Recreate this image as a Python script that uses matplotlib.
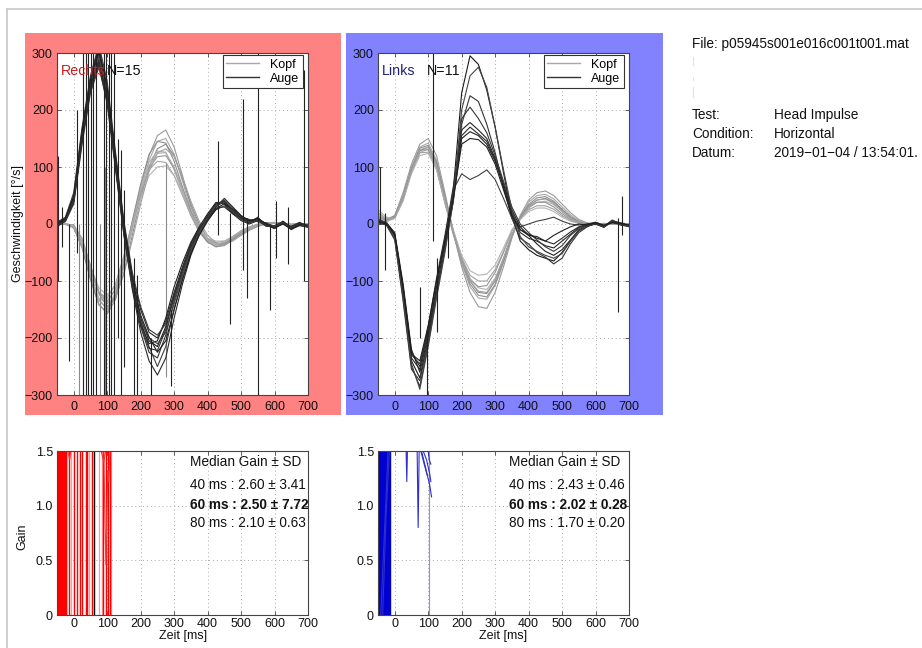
import matplotlib
matplotlib.use('Agg')
import matplotlib.pyplot as plt
from matplotlib.patches import Rectangle
from matplotlib.lines import Line2D

plt.rcParams['font.family'] = ['Liberation Sans', 'DejaVu Sans']

# ---------------- data ----------------
T = [-50, -25, 0, 25, 50, 75, 100, 125, 150, 175, 200, 225, 250, 275, 300, 325,
     350, 375, 400, 425, 450, 475, 500, 525, 550, 575, 600, 625, 650, 675, 700]

# Rechts: head (Kopf) velocity traces
HEAD_R = [
    [0, 0, -6, -40, -95, -140, -158, -132, -75, -5, 65, 120, 155, 165, 135, 85, 30, -5, -30, -40, -38, -28, -16, -8, -2, 2, 3, 0, -2, 0, 0],
    [0, 1, -4, -35, -88, -132, -150, -125, -70, 0, 62, 112, 145, 150, 122, 75, 25, -8, -30, -38, -35, -25, -14, -6, -1, 2, 2, 0, -1, 0, 0],
    [0, 0, -2, -28, -78, -122, -145, -130, -85, -20, 45, 100, 132, 140, 120, 80, 35, 0, -25, -35, -36, -28, -18, -10, -4, 0, 2, 1, -1, 0, 0],
    [0, 0, -5, -38, -90, -130, -140, -112, -58, 5, 65, 108, 128, 126, 95, 55, 15, -15, -32, -38, -33, -22, -12, -5, 0, 2, 2, 0, -2, 0, 0],
    [0, -1, -3, -30, -80, -120, -135, -115, -68, -8, 52, 98, 118, 120, 98, 62, 22, -8, -28, -35, -34, -26, -15, -7, -2, 1, 2, 1, -1, 0, 0],
    [0, 0, -4, -32, -82, -120, -130, -105, -55, 2, 55, 95, 110, 108, 85, 50, 15, -12, -28, -32, -30, -22, -12, -5, -1, 1, 1, 0, -1, 0, 0],
    [0, 0, -3, -28, -75, -112, -125, -108, -65, -10, 45, 85, 100, 102, 85, 55, 20, -8, -25, -30, -30, -24, -15, -7, -2, 0, 1, 0, -1, 0, 0],
    [0, 0, -7, -42, -98, -142, -155, -125, -65, 5, 70, 122, 145, 142, 110, 65, 20, -12, -32, -40, -36, -25, -14, -6, -1, 2, 2, 0, -2, 0, 0],
    [0, 0, -2, -25, -72, -118, -140, -128, -88, -28, 35, 92, 125, 132, 118, 82, 40, 5, -20, -33, -36, -30, -20, -11, -4, 0, 2, 1, 0, 0, 0],
    [0, 0, -5, -36, -88, -134, -148, -120, -62, 0, 58, 102, 124, 125, 100, 60, 18, -10, -28, -35, -32, -24, -13, -6, -1, 1, 2, 0, -1, 0, 0],
]

# Rechts: eye (Auge) velocity traces
EYE_R = [
    [0, 8, 45, 160, 250, 300, 230, 110, -10, -100, -165, -205, -215, -180, -125, -80, -40, -10, 15, 35, 38, 20, 12, 5, 10, 0, -8, 5, -6, 2, -4],
    [-5, 5, 40, 150, 240, 290, 220, 100, -15, -110, -180, -225, -235, -195, -135, -85, -45, -12, 12, 30, 40, 25, 8, 2, 12, -3, -5, 3, -8, 0, -2],
    [2, 10, 50, 165, 255, 310, 240, 120, 0, -90, -150, -190, -200, -170, -120, -75, -35, -8, 10, 28, 30, 18, 10, 6, 5, 2, -6, 0, -4, 3, -5],
    [0, 4, 35, 140, 230, 275, 215, 105, -5, -95, -170, -215, -250, -215, -150, -95, -50, -15, 10, 32, 42, 28, 14, 4, 8, -2, -8, 2, -10, -2, -6],
    [-3, 6, 42, 155, 245, 285, 225, 112, -8, -105, -175, -210, -205, -165, -110, -68, -32, -5, 18, 38, 35, 18, 6, 0, 6, -4, -3, 4, -6, 1, -3],
    [3, 12, 55, 170, 260, 315, 250, 125, 5, -85, -145, -185, -195, -175, -130, -85, -42, -12, 8, 25, 32, 22, 12, 8, 4, 1, -4, 2, -5, 0, -2],
    [0, 7, 38, 145, 235, 280, 210, 95, -20, -115, -190, -240, -265, -235, -165, -105, -55, -18, 8, 30, 45, 30, 15, 5, 10, -1, -6, 1, -8, -3, -5],
    [-2, 5, 44, 158, 248, 295, 232, 108, -12, -102, -168, -200, -210, -190, -140, -90, -48, -15, 12, 33, 38, 22, 9, 3, 7, -2, -5, 3, -7, 0, -4],
    [1, 9, 48, 162, 252, 305, 238, 115, -2, -96, -160, -198, -225, -205, -150, -98, -52, -20, 5, 26, 36, 26, 14, 6, 9, 0, -7, 0, -9, -1, -3],
    [-1, 6, 40, 150, 238, 282, 218, 100, -18, -110, -178, -218, -222, -185, -125, -78, -38, -8, 14, 36, 40, 24, 10, 2, 8, -3, -4, 4, -6, 2, -3],
]

# Rechts: artefact spikes (time, low, high)
SPIKE_R_T = [-47, -35, -15, 10, 28, 36, 44, 52, 58, 66, 90, 96, 104, 112, 120, 132, 142, 150, 180, 190, 232, 292, 430, 467, 505, 517, 550, 586, 605, 640, 688]
SPIKE_R_LO = [-100, -40, -240, -50, -300, -300, -300, -300, -300, -300, -300, -300, -300, -300, -300, -200, -300, -250, -300, -300, -300, -285, -20, -175, -80, -130, -300, -150, -60, -70, -100]
SPIKE_R_HI = [120, 30, 0, 200, 300, 300, 300, 300, 300, 300, 300, 300, 300, 300, 300, 150, 130, 60, -60, -90, -200, -150, 145, 20, 220, 10, 300, 0, 40, 30, 270]
SPIKE_R_GRAY_T = [15, 78, 92, 277]
SPIKE_R_GRAY_LO = [-300, -300, -300, -268]
SPIKE_R_GRAY_HI = [0, 0, 100, 107]

# Links: head traces
HEAD_L = [
    [10, 8, 15, 55, 105, 140, 150, 120, 55, -15, -75, -120, -145, -148, -120, -75, -25, 15, 42, 55, 58, 50, 35, 20, 8, 2, 0, -2, 0, 2, 0],
    [20, 10, 12, 50, 100, 135, 142, 112, 50, -15, -70, -110, -130, -132, -108, -68, -22, 12, 38, 50, 52, 44, 30, 16, 6, 1, -1, 0, 1, 0, 0],
    [5, 5, 10, 45, 95, 128, 135, 108, 48, -12, -62, -100, -120, -122, -100, -62, -20, 10, 32, 42, 45, 38, 25, 12, 4, 0, -1, 1, 0, 0, 0],
    [25, 12, 10, 42, 90, 125, 132, 105, 45, -10, -58, -95, -112, -115, -95, -60, -20, 8, 28, 38, 40, 34, 22, 10, 3, 0, 0, 0, 1, 0, 0],
    [8, 6, 14, 48, 98, 130, 130, 98, 38, -18, -65, -98, -110, -108, -85, -50, -12, 12, 30, 38, 38, 30, 18, 8, 2, -1, 0, 1, 0, 0, 0],
    [15, 8, 12, 44, 92, 125, 126, 95, 36, -18, -60, -90, -100, -100, -80, -48, -12, 10, 25, 32, 32, 26, 15, 6, 1, -1, 0, 0, 1, 0, 0],
    [3, 4, 10, 40, 88, 120, 124, 96, 40, -12, -55, -82, -90, -88, -72, -42, -10, 8, 22, 28, 28, 22, 12, 5, 1, 0, 0, 0, 0, 0, 0],
    [12, 7, 13, 47, 96, 133, 138, 108, 46, -14, -66, -105, -125, -128, -106, -66, -20, 12, 34, 46, 48, 40, 26, 13, 4, 0, -1, 0, 1, 0, 0],
    [18, 9, 11, 46, 94, 130, 135, 102, 42, -16, -64, -100, -118, -120, -98, -60, -18, 10, 30, 42, 44, 36, 22, 10, 3, 0, 0, 1, 0, 0, 0],
]

# Links: eye traces
EYE_L = [
    [5, 2, -20, -120, -240, -270, -200, -120, -40, 60, 230, 295, 280, 235, 170, 90, 15, -30, -45, -55, -60, -65, -50, -30, -12, -3, 0, -5, 5, 0, -3],
    [3, 0, -25, -130, -250, -285, -210, -125, -45, 45, 175, 225, 215, 175, 125, 65, 10, -25, -35, -50, -58, -70, -60, -35, -15, -5, 2, -4, 6, 2, -2],
    [6, 3, -18, -110, -225, -250, -190, -110, -35, 50, 165, 178, 165, 150, 115, 65, 15, -15, -25, -30, -38, -42, -30, -18, -6, -2, 3, -3, 4, -2, -4],
    [4, 1, -22, -115, -230, -245, -185, -100, -25, 60, 88, 78, 85, 95, 78, 45, 10, -5, 0, 5, 8, 12, 5, 0, -2, 0, 2, -3, 3, 0, -2],
    [8, 2, -15, -105, -220, -260, -195, -115, -40, 40, 150, 162, 155, 140, 110, 70, 25, -5, -20, -35, -48, -55, -45, -28, -10, -4, 0, -6, 5, 1, -3],
    [2, -2, -28, -135, -255, -275, -205, -118, -38, 55, 185, 205, 185, 160, 120, 75, 30, 0, -15, -28, -40, -48, -38, -20, -8, -2, 1, -4, 7, -1, -5],
    [5, 1, -20, -118, -235, -255, -180, -95, -20, 65, 155, 170, 158, 145, 112, 68, 20, -10, -20, -22, -30, -35, -25, -14, -5, 0, 3, -2, 2, 0, -2],
    [7, 3, -24, -125, -245, -290, -215, -130, -50, 40, 200, 260, 275, 240, 170, 95, 25, -22, -40, -48, -55, -60, -52, -30, -12, -4, 1, -5, 4, 0, -3],
    [4, 0, -18, -112, -228, -240, -178, -100, -30, 45, 140, 150, 148, 135, 105, 60, 15, -10, -18, -25, -30, -20, -12, -5, 0, -2, 2, -3, 3, 1, -2],
]

SPIKE_L_T = [-45, -30, 75, 96, 115, 125, 160, 668, 680]
SPIKE_L_LO = [0, -80, -200, -300, -30, -190, -60, -155, -20]
SPIKE_L_HI = [100, 20, -110, -180, 300, -60, 10, 10, 50]

# Gain traces, Rechts (vertical excursions beyond 0..1.5)
GAIN_R_T = [-46, -44, -42, -40, -38, -36, -34, -32, -30, -28, -26, -24, -22, -14, 1, 11, 19, 26, 36, 41, 54, 88, 96, 101, 108]
GAIN_R_LO = [0, 0, 0, 0, 0, 0, 0, 0, 0, 0, 0, 0, 0, 0, 0, 0, 0, 0, 0, 0, 0, 0, 0, 0, 0]
GAIN_R_FAINT_T = [-8, 47, 76, 84, 110]
GAIN_R_FAINT_LO = [0, 0, 0, 0, 0]
GAIN_R_MARK_T = [62]
GAIN_R_CURVE_T = [[90, 93, 96, 99, 102, 105, 108], [-18, -15, -12, -9], [82, 86, 90, 95]]
GAIN_R_CURVE_G = [[1.5, 0.9, 0.46, 0.95, 1.32, 1.22, 1.5], [1.5, 1.46, 1.42, 1.5], [1.5, 1.45, 1.4, 1.5]]

# Gain traces, Links
GAIN_L_T = [-49, -47, -45, -43, -41, -39, -37, -35, -33, -31, -29, -27, -25, -23, -21, -19, -17, -15]
GAIN_L_LO = [0, 0, 0, 0, 0, 0, 0, 0, 0, 0, 0, 0, 0, 0, 0, 0, 0, 0]
GAIN_L_FAINT_T = [103]
GAIN_L_FAINT_LO = [0]
GAIN_L_CURVE_T = [[34, 36, 38], [67, 70, 73], [80, 92, 105, 110], [78, 88, 97], [85, 95, 104, 108],
                  [100, 103, 108], [-42, -30, -20], [-36, -26, -16]]
GAIN_L_CURVE_G = [[1.5, 1.22, 1.5], [1.5, 0.8, 1.5], [1.5, 1.35, 1.18, 1.08], [1.5, 1.38, 1.28],
                  [1.5, 1.42, 1.3, 1.22], [1.5, 1.42, 1.38], [0.0, 0.8, 1.5], [0.0, 0.9, 1.5]]

GAIN_TEXT_R = ['Median Gain ± SD', '40 ms : 2.60 ± 3.41', '60 ms : 2.50 ± 7.72', '80 ms : 2.10 ± 0.63']
GAIN_TEXT_L = ['Median Gain ± SD', '40 ms : 2.43 ± 0.46', '60 ms : 2.02 ± 0.28', '80 ms : 1.70 ± 0.20']

XTICKS = [0, 100, 200, 300, 400, 500, 600, 700]
VEL_TICKS = [-300, -200, -100, 0, 100, 200, 300]
GAIN_TICKS = [0, 0.5, 1.0, 1.5]
GAIN_TICKLABELS = ['0', '0.5', '1.0', '1.5']

INFO_LABELS = ['Test:', 'Condition:', 'Datum:']
INFO_VALUES = ['Head Impulse', 'Horizontal', '2019\u221201\u221204 / 13:54:01.']
FILE_TEXT = 'File: p05945s001e016c001t001.mat'

# ---------------- figure ----------------
W, H = 922, 648
fig = plt.figure(figsize=(W / 100, H / 100), dpi=100)
fig.patch.set_facecolor('white')


def box(x0, y0, x1, y1):
    return [x0 / W, 1 - y1 / H, (x1 - x0) / W, (y1 - y0) / H]


def ftext(x, y, s, **kw):
    fig.text(x / W, 1 - y / H, s, **kw)


# outer light border
fig.add_artist(Line2D([7 / W, 1], [1 - 9 / H, 1 - 9 / H], transform=fig.transFigure, color='#cccccc', lw=1.3))
fig.add_artist(Line2D([7 / W, 7 / W], [0, 1 - 9 / H], transform=fig.transFigure, color='#cccccc', lw=1.3))

# coloured panels
for (x0, x1), col in [((25, 341), '#ff8282'), ((346, 663), '#8282ff')]:
    b = box(x0, 33, x1, 415)
    fig.add_artist(Rectangle((b[0], b[1]), b[2], b[3], transform=fig.transFigure,
                             facecolor=col, edgecolor='none', zorder=-5))


def style(ax, yticks, ylabels, ylim, xpad):
    ax.set_xlim(-50, 700)
    ax.set_ylim(*ylim)
    ax.set_xticks(XTICKS)
    ax.set_yticks(yticks)
    ax.set_yticklabels(ylabels)
    ax.tick_params(direction='in', length=3, width=0.6, top=True, right=True,
                   labelsize=9, colors='#444444', labelcolor='#111111')
    ax.tick_params(axis='x', pad=xpad)
    ax.tick_params(axis='y', pad=3)
    ax.grid(True, linestyle=(0, (1, 3)), color='#aaaaaa', lw=0.7)
    ax.set_axisbelow(True)
    for s in ax.spines.values():
        s.set_color('#444444')
        s.set_linewidth(0.8)
    ax.set_facecolor('white')


head_cols = ['#9a9a9a', '#a8a8a8', '#8c8c8c', '#b0b0b0', '#969696', '#a2a2a2', '#b4b4b4', '#909090', '#a0a0a0', '#aaaaaa']
eye_cols = ['#1a1a1a', '#333333', '#262626', '#404040', '#202020', '#383838', '#2a2a2a', '#444444', '#1e1e1e', '#303030']

vel_labels = [str(v).replace('-', '\u2212') for v in VEL_TICKS]

# --- top left: Rechts ---
axR = fig.add_axes(box(57, 53, 308, 395))
style(axR, VEL_TICKS, vel_labels, (-300, 300), 4)
for i, h in enumerate(HEAD_R):
    axR.plot(T, h, color=head_cols[i % 10], lw=0.8)
axR.vlines(SPIKE_R_GRAY_T, SPIKE_R_GRAY_LO, SPIKE_R_GRAY_HI, colors='#8a8a8a', lw=0.8)
for i, e in enumerate(EYE_R):
    axR.plot(T, e, color=eye_cols[i % 10], lw=0.8)
axR.vlines(SPIKE_R_T, SPIKE_R_LO, SPIKE_R_HI, colors='#222222', lw=0.8)

# --- top right: Links ---
axL = fig.add_axes(box(378, 53, 629, 395))
style(axL, VEL_TICKS, vel_labels, (-300, 300), 4)
for i, h in enumerate(HEAD_L):
    axL.plot(T, h, color=head_cols[i % 10], lw=0.8)
for i, e in enumerate(EYE_L):
    axL.plot(T, e, color=eye_cols[i % 10], lw=0.8)
axL.vlines(SPIKE_L_T, SPIKE_L_LO, SPIKE_L_HI, colors='#222222', lw=0.8)

lh = [Line2D([], [], color='#a8a8a8', lw=1), Line2D([], [], color='#333333', lw=1)]
for ax in (axR, axL):
    leg = ax.legend(lh, ['Kopf', 'Auge'], loc='upper right',
                    bbox_to_anchor=(1 - 5 / 251, 1 - 2 / 342), borderaxespad=0,
                    fontsize=9, handlelength=2.6, handletextpad=0.9, borderpad=0.3,
                    labelspacing=0.15, fancybox=False, framealpha=1)
    leg.get_frame().set_edgecolor('#333333')
    leg.get_frame().set_linewidth(0.8)

ftext(61, 71, 'Rechts', fontsize=10.3, color='#c81e1e', va='center', ha='left')
ftext(107, 71, 'N=15', fontsize=10.3, color='#111111', va='center', ha='left')
ftext(382, 71, 'Links', fontsize=10.3, color='#22227a', va='center', ha='left')
ftext(427, 71, 'N=11', fontsize=10.3, color='#111111', va='center', ha='left')
ftext(18, 224, 'Geschwindigkeit [°/s]', fontsize=9, rotation=90, ha='center', va='center', color='#111111')

# --- bottom left gain ---
gR = fig.add_axes(box(57, 451, 308, 615))
style(gR, GAIN_TICKS, GAIN_TICKLABELS, (0, 1.5), 2.5)
gR.vlines(GAIN_R_FAINT_T, GAIN_R_FAINT_LO, 1.5, colors='#ff9a9a', lw=0.9)
gR.vlines(GAIN_R_T, GAIN_R_LO, 1.5, colors='#ff0000', lw=1.0)
for tt, gg in zip(GAIN_R_CURVE_T, GAIN_R_CURVE_G):
    gR.plot(tt, gg, color='#ff3030', lw=0.8)
gR.vlines(GAIN_R_MARK_T, 0, 1.5, colors='#000000', lw=1.0)

# --- bottom right gain ---
gL = fig.add_axes(box(378, 451, 629, 615))
style(gL, GAIN_TICKS, GAIN_TICKLABELS, (0, 1.5), 2.5)
gL.vlines(GAIN_L_FAINT_T, GAIN_L_FAINT_LO, 1.5, colors='#9090d8', lw=0.8)
gL.vlines(GAIN_L_T, GAIN_L_LO, 1.5, colors='#0000d0', lw=1.0)
for tt, gg in zip(GAIN_L_CURVE_T, GAIN_L_CURVE_G):
    gL.plot(tt, gg, color='#3030c8', lw=0.8)

for ax, lines, x0 in ((gR, GAIN_TEXT_R, 190), (gL, GAIN_TEXT_L, 509)):
    for j, (s, y) in enumerate(zip(lines, [462, 485, 505, 523])):
        ftext(x0, y, s, fontsize=9.8, ha='left', va='center', color='#111111',
              fontweight='bold' if j == 2 else 'normal')

ftext(22, 537, 'Gain', fontsize=9, rotation=90, ha='center', va='center', color='#111111')
ftext(183, 636, 'Zeit [ms]', fontsize=9, ha='center', va='center', color='#111111')
ftext(503, 636, 'Zeit [ms]', fontsize=9, ha='center', va='center', color='#111111')

# --- info text ---
ftext(692, 44, FILE_TEXT, fontsize=9.8, ha='left', va='center', color='#111111')
for lab, val, y in zip(INFO_LABELS, INFO_VALUES, [115, 134, 153]):
    ftext(692, y, lab, fontsize=9.8, ha='left', va='center', color='#111111')
    ftext(774, y, val, fontsize=9.8, ha='left', va='center', color='#111111')
for y0, y1 in [(57, 65), (77, 80), (87, 97)]:
    fig.add_artist(Line2D([693 / W, 693 / W], [1 - y0 / H, 1 - y1 / H], transform=fig.transFigure,
                          color='#e4e4e4', lw=0.8))

fig.savefig('out.png', dpi=100)
